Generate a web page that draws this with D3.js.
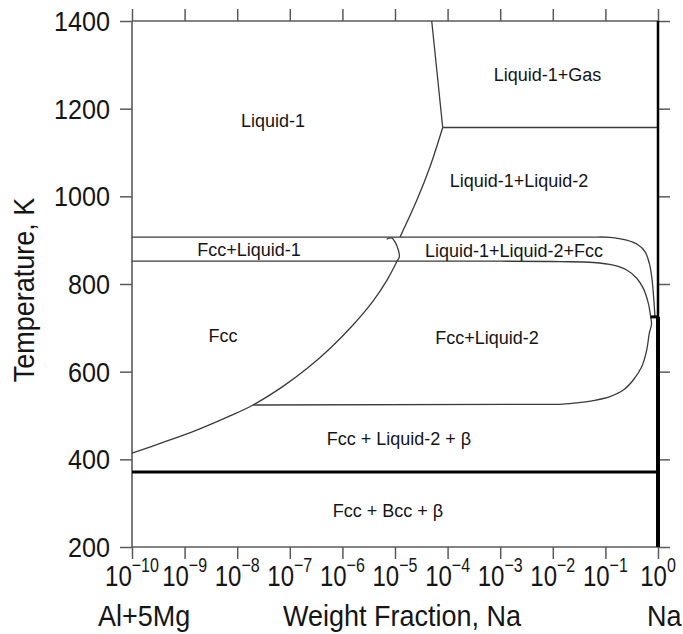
<!DOCTYPE html>
<html><head><meta charset="utf-8">
<script src="https://cdn.jsdelivr.net/npm/d3@7"></script>
<style>
html,body{margin:0;padding:0;background:#fff}
svg{display:block}
text{font-family:"Liberation Sans",Arial,Helvetica,sans-serif;fill:#151515}
</style>
</head><body>
<svg id="c" width="683" height="634"></svg>
<script>
// ---------- data ----------
const xTickExponents = [-10,-9,-8,-7,-6,-5,-4,-3,-2,-1,0];
const yTickValues = [200,400,600,800,1000,1200,1400];

// phase boundaries: [weight fraction Na, temperature K]
const fccSolvus = [[1e-10,414],[3.88e-10,438.5],[1.65e-9,466],[7.30e-9,499],[2.00e-8,524],[7.43e-8,566.5],[2.12e-7,607],[5.81e-7,653],[1.59e-6,706.5],[3.82e-6,761],[7.05e-6,809],[1.09e-5,852]];
const solvusHook = [[1.09e-5,852],[1.21e-5,862],[1.16e-5,877],[1.0e-5,896],[8.65e-6,905],[6.95e-6,902]];
const liquidus = [[1.245e-5,907],[2.62e-5,992],[4.65e-5,1068],[8.07e-5,1157]];
const gasBoundary = [[8.07e-5,1157],[4.99e-5,1400]];
const gasLine = [[8.07e-5,1157],[1,1157]];
const line907 = [[1e-10,907],[1e-3,907],[0.05,907],[0.122,906.5],[0.254,900],[0.422,889],[0.566,874],[0.684,847],[0.759,817],[0.815,779],[0.851,748],[0.877,725]];
const line852 = [[1e-10,852],[1e-3,852],[0.0137,851],[0.0589,849],[0.141,843],[0.254,832],[0.394,813],[0.526,790],[0.655,756],[0.726,725],[0.752,708],[0.684,688],[0.610,649],[0.490,611],[0.339,581],[0.219,558],[0.122,543],[0.0589,534],[0.0284,529],[0.0137,525.5]];
const line524 = [[2.00e-8,524],[0.0137,525.5]];
const line371 = [[1e-10,371],[1,371]];
const dash725 = [[0.726,725],[1,725]];
const naSideLow = [[1,200],[1,725]];
const naSideHigh = [[1,725],[1,1400]];

const phaseNames = ["Liquid-1","Liquid-1+Gas","Liquid-1+Liquid-2","Fcc+Liquid-1","Liquid-1+Liquid-2+Fcc","Fcc","Fcc+Liquid-2","Fcc + Liquid-2 + \u03B2","Fcc + Bcc + \u03B2"];
const phaseW = [4.8e-8,7.9e-3,2.28e-3,1.68e-8,1.83e-3,5.4e-9,5.6e-4,1.19e-5,7.36e-6];
const phaseT = [1158,1263,1021,864,862,668,663,433,268];

// ---------- chart ----------
const svg = d3.select("#c");
const x = d3.scaleLog().domain([1e-10,1]).range([132,658]);
const y = d3.scaleLinear().domain([200,1400]).range([547,21]);

const axisColor = "#5a5a5a";
const lineColor = "#3a3a3a";

// axes
const gAx = svg.append("g");
const xt = xTickExponents.map(e=>Math.pow(10,e));
const axL = d3.axisLeft(y).tickValues(yTickValues).tickSize(12).tickFormat("");
const axR = d3.axisRight(y).tickValues(yTickValues).tickSize(12).tickFormat("");
const axB = d3.axisBottom(x).tickValues(xt).tickSize(12).tickFormat("");
const axT = d3.axisTop(x).tickValues(xt).tickSize(12).tickFormat("");
[[axL,`translate(132,0)`],[axR,`translate(658,0)`],[axB,`translate(0,547)`],[axT,`translate(0,21)`]].forEach(([a,t])=>{
  const g = gAx.append("g").attr("transform",t).call(a);
  g.selectAll("path.domain").remove();
  g.selectAll(".tick line").attr("stroke",axisColor).attr("stroke-width",1.5);
});
const lin = d3.line().x(d=>x(d[0])).y(d=>y(d[1]));
const frame = [[[1e-10,200],[1e-10,1400]],[[1e-10,200],[1,200]],[[1e-10,1400],[1,1400]]];
frame.forEach(f=>svg.append("path").attr("d",lin(f)).attr("fill","none").attr("stroke",axisColor).attr("stroke-width",1.6));

// y tick labels
yTickValues.forEach(v=>{
  svg.append("text").attr("transform",`translate(110,${y(v)+10}) scale(0.9,1)`)
    .attr("text-anchor","end").attr("font-size",28).text(v);
});
// x tick labels
xTickExponents.forEach(e=>{
  const t = svg.append("text").attr("transform",`translate(${x(Math.pow(10,e))},586) scale(0.8,1)`)
    .attr("text-anchor","middle").attr("font-size",30);
  t.append("tspan").text("10");
  t.append("tspan").attr("font-size",20).attr("dy",-14).text(e<0?"\u2212"+(-e):String(e));
});

// axis titles
svg.append("text").attr("transform","translate(34,290) rotate(-90) scale(0.9,1)").attr("text-anchor","middle").attr("font-size",30).text("Temperature, K");
svg.append("text").attr("transform","translate(98,626) scale(0.9,1)").attr("font-size",30).text("Al+5Mg");
svg.append("text").attr("transform","translate(283,626) scale(0.9,1)").attr("font-size",30).text("Weight Fraction, Na");
svg.append("text").attr("transform","translate(647,626) scale(0.9,1)").attr("font-size",30).text("Na");

// boundaries
const smooth = d3.line().x(d=>x(d[0])).y(d=>y(d[1])).curve(d3.curveCatmullRom.alpha(0.5));
[fccSolvus,solvusHook,liquidus,line907,line852].forEach(d=>svg.append("path").attr("d",smooth(d)).attr("fill","none").attr("stroke",lineColor).attr("stroke-width",1.3));
[gasBoundary,gasLine,line524].forEach(d=>svg.append("path").attr("d",lin(d)).attr("fill","none").attr("stroke",lineColor).attr("stroke-width",1.3));
svg.append("path").attr("d",lin(line371)).attr("stroke","#000").attr("stroke-width",3);
svg.append("path").attr("d",lin(dash725)).attr("stroke","#000").attr("stroke-width",3);
svg.append("path").attr("d",lin(naSideLow)).attr("stroke","#000").attr("stroke-width",4);
svg.append("path").attr("d",lin(naSideHigh)).attr("stroke","#000").attr("stroke-width",2.5);

// phase labels
phaseNames.forEach((n,i)=>{
  svg.append("text").attr("x",x(phaseW[i])).attr("y",y(phaseT[i]))
    .attr("text-anchor","middle").attr("font-size",18).text(n);
});
</script>
</body></html>
